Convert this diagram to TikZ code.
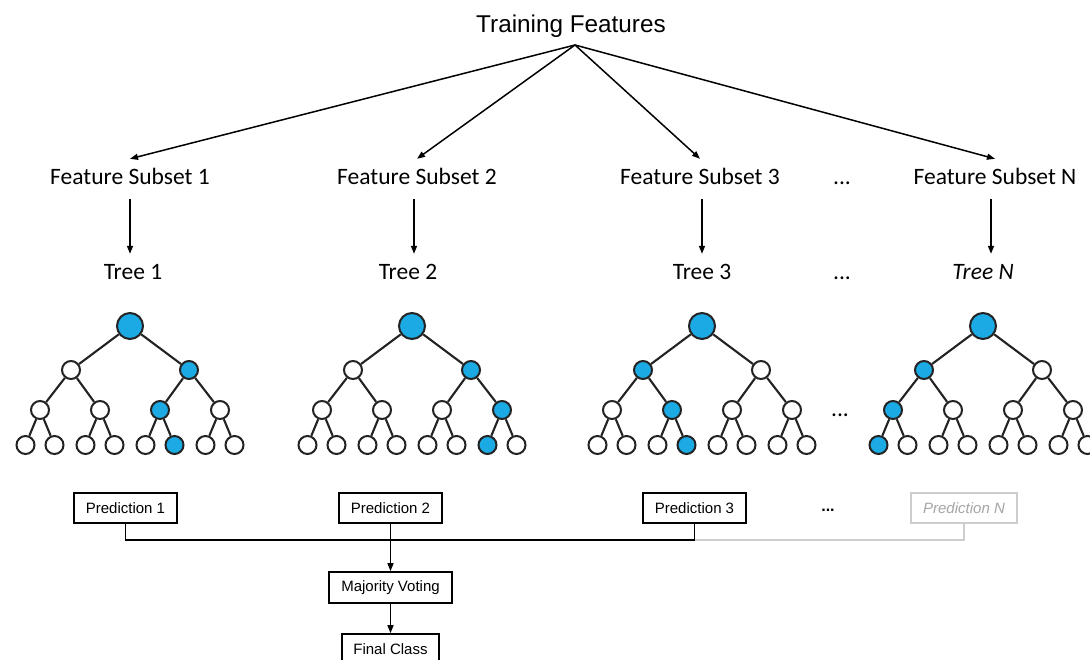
\documentclass[tikz,border=0pt]{standalone}
\usepackage{fontspec}
\setmainfont{Carlito}
\newfontfamily\arialfont{Liberation Sans}
\usetikzlibrary{arrows.meta}

\definecolor{nodeblue}{RGB}{28,170,228}
\definecolor{edgegray}{RGB}{35,35,35}
\definecolor{faintline}{RGB}{205,205,205}
\definecolor{fainttext}{RGB}{165,165,165}

% One decision tree: #1 prefix, #2 root x, #3/#4/#5 index of the
% highlighted node on levels 1, 2 and 3 (the root is always highlighted)
\newcommand\rftree[5]{%
  \node[troot,fill=nodeblue] (#1r) at (#2,326) {};
  \foreach \i in {0,1}{%
    \pgfmathsetmacro\xx{#2-59+118*\i}%
    \ifnum\i=#3\relax\def\fillc{nodeblue}\else\def\fillc{white}\fi
    \node[tnode,fill=\fillc] (#1a\i) at (\xx,370) {};
    \draw[tedge] (#1r) -- (#1a\i);
  }%
  \foreach \j in {0,...,3}{%
    \pgfmathsetmacro\xx{#2-90+60*\j}%
    \pgfmathtruncatemacro\pp{int(\j/2)}%
    \ifnum\j=#4\relax\def\fillc{nodeblue}\else\def\fillc{white}\fi
    \node[tnode,fill=\fillc] (#1b\j) at (\xx,410) {};
    \draw[tedge] (#1a\pp) -- (#1b\j);
  }%
  \foreach \k in {0,...,7}{%
    \pgfmathtruncatemacro\pp{int(\k/2)}%
    \pgfmathsetmacro\xx{#2-90+60*\pp-14.5+29*mod(\k,2)}%
    \ifnum\k=#5\relax\def\fillc{nodeblue}\else\def\fillc{white}\fi
    \node[tnode,fill=\fillc] (#1c\k) at (\xx,445) {};
    \draw[tedge] (#1b\pp) -- (#1c\k);
  }%
}

\begin{document}
\begin{tikzpicture}[x=1pt,y=-1pt,
  conn/.style={line width=1.5pt,draw=black,-{Triangle[length=8pt,width=6pt]}},
  tnode/.style={circle,draw=edgegray,line width=2pt,inner sep=0pt,minimum size=18pt},
  troot/.style={tnode,minimum size=26pt},
  tedge/.style={line width=2.1pt,draw=edgegray},
  title/.style={font=\arialfont\fontsize{24.3}{28}\selectfont,anchor=base,inner sep=0pt},
  lbl/.style={font=\fontsize{23.5}{28}\selectfont,anchor=base,inner xsep=0pt,
    inner ysep=9pt,text height=17pt,text depth=5pt},
  ell/.style={font=\fontsize{23.5}{28}\selectfont,anchor=base,inner sep=0pt},
  pred/.style={draw=black,line width=1.7pt,font=\arialfont\fontsize{15}{18}\selectfont,
    minimum width=103pt,minimum height=30pt,inner sep=0pt},
  predfaint/.style={pred,draw=faintline,text=fainttext,
    font=\arialfont\itshape\fontsize{15}{18}\selectfont,minimum width=106pt},
  bus/.style={line width=1.5pt,draw=black},
  busfaint/.style={line width=1.3pt,draw=faintline},
]
\clip (0,0) rectangle (1090,660);
\fill[white] (0,0) rectangle (1090,660);

% top label and the point the subset arrows fan out from
\node[title] (tf) at (571,33) {Training Features};
\coordinate (apex) at (575,45);

% feature subsets
\node[lbl] (fs1) at (130,185) {Feature Subset 1};
\node[lbl] (fs2) at (417,185) {Feature Subset 2};
\node[lbl] (fs3) at (700,185) {Feature Subset 3};
\node[ell] (dots1) at (842,185) {...};
\node[lbl] (fsN) at (995,185) {Feature Subset N};

% tree labels
\node[lbl] (tl1) at (133,280) {Tree 1};
\node[lbl] (tl2) at (408,280) {Tree 2};
\node[lbl] (tl3) at (702,280) {Tree 3};
\node[ell] (dots2) at (842,280) {...};
\node[lbl,font=\itshape\fontsize{23.5}{28}\selectfont] (tlN) at (983,280) {Tree N};

\draw[conn] (apex) -- (fs1.north);
\draw[conn] (apex) -- (fs2.north);
\draw[conn] (apex) -- (fs3.north);
\draw[conn] (apex) -- (fsN.north);

\draw[conn] (fs1.south) -- (fs1.south |- tl1.north);
\draw[conn] ([xshift=-3pt]fs2.south) -- ([xshift=-3pt]fs2.south |- tl2.north);
\draw[conn] ([xshift=2pt]fs3.south) -- ([xshift=2pt]fs3.south |- tl3.north);
\draw[conn] ([xshift=-4pt]fsN.south) -- ([xshift=-4pt]fsN.south |- tlN.north);

% the trees, each with its decision path highlighted
\rftree{A}{130}{1}{2}{5}
\rftree{B}{412}{1}{3}{6}
\rftree{C}{702}{0}{1}{3}
\rftree{D}{983}{0}{0}{0}
\node[ell] (dots3) at (840,416) {...};

% predictions and voting
\node[pred] (p1) at (125.5,508) {Prediction 1};
\node[pred] (p2) at (390.5,508) {Prediction 2};
\node[pred] (p3) at (694.5,508) {Prediction 3};
\node[font=\arialfont\bfseries\fontsize{16}{18}\selectfont,inner sep=0pt] (dots4) at (828,510) {...};
\node[predfaint] (pN) at (964,508) {Prediction N};
\coordinate (busy) at (0,540);

\draw[busfaint] (p3.south |- busy) -| (pN.south);
\draw[bus] (p1.south) |- (p3.south |- busy) -- (p3.south);

\node[pred,minimum width=123pt,minimum height=31pt] (mv) at (390.5,587.5) {Majority Voting};
\node[pred,minimum width=97pt] (fc) at (390.5,649) {Final Class};

\draw[conn] (p2.south) -- (mv.north);
\draw[conn] (mv.south) -- (fc.north);
\end{tikzpicture}
\end{document}
